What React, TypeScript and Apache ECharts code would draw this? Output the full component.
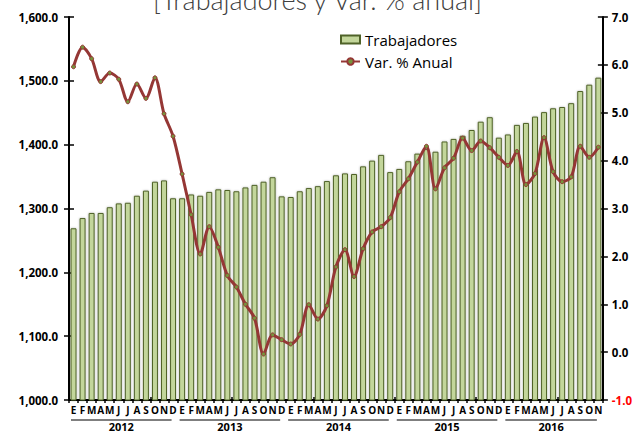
import React, { useEffect, useRef } from 'react';
import * as echarts from 'echarts';

const years = ['2012', '2013', '2014', '2015', '2016'];
const monthInitials = ['E', 'F', 'M', 'A', 'M', 'J', 'J', 'A', 'S', 'O', 'N', 'D'];
const monthsPerYear = [12, 12, 12, 12, 11];

const trabajadores = [
  1269, 1285, 1293, 1293, 1302, 1308, 1309, 1320, 1328, 1342, 1344, 1316,
  1316, 1322, 1320, 1326, 1330, 1329, 1327, 1333, 1337, 1342, 1349, 1319,
  1318, 1327, 1332, 1335, 1343, 1352, 1355, 1354, 1366, 1375, 1384, 1357,
  1362, 1374, 1386, 1393, 1389, 1405, 1409, 1414, 1423, 1436, 1443, 1411,
  1416, 1431, 1434, 1444, 1451, 1457, 1459, 1465, 1484, 1494, 1505,
];

const varAnual = [
  5.96, 6.37, 6.13, 5.65, 5.83, 5.7, 5.23, 5.6, 5.3, 5.73, 4.98, 4.51,
  3.72, 2.87, 2.05, 2.62, 2.19, 1.6, 1.36, 1.0, 0.71, -0.04, 0.36, 0.26,
  0.17, 0.37, 0.99, 0.69, 0.97, 1.78, 2.14, 1.58, 2.16, 2.51, 2.62, 2.81,
  3.35, 3.62, 3.97, 4.3, 3.41, 3.85, 4.05, 4.47, 4.21, 4.41, 4.27, 4.07,
  3.9, 4.19, 3.5, 3.73, 4.48, 3.77, 3.56, 3.66, 4.3, 4.07, 4.28,
];

const leftAxisRange = { min: 1000, max: 1600, interval: 100 };
const rightAxisRange = { min: -1, max: 7, interval: 1 };

const titleText = '[Trabajadores y Var. % anual]';
const barName = 'Trabajadores';
const lineName = 'Var. % Anual';

const categories: string[] = [];
years.forEach((y, yi) => {
  for (let m = 0; m < monthsPerYear[yi]; m++) categories.push(`${y}-${m}-${monthInitials[m]}`);
});

const FONT = 'Open Sans';

export default function App() {
  const ref = useRef<HTMLDivElement>(null);
  useEffect(() => {
    document.body.style.margin = '0';
    const chart = echarts.init(ref.current!, null, { renderer: 'svg' });
    const axisLineStyle = { color: '#000', width: 2 };
    const tickStyle = { color: '#000', width: 1.5 };
    chart.setOption({
      animation: false,
      title: {
        text: titleText,
        left: 'center',
        top: -19,
        textStyle: { fontSize: 27, fontWeight: 300, color: '#404040', fontFamily: 'Lato' },
      },
      legend: {
        orient: 'vertical',
        left: 340,
        top: 32,
        padding: 0,
        itemWidth: 19,
        itemHeight: 8,
        itemGap: 7,
        textStyle: { fontSize: 15, fontWeight: 500, color: '#000', fontFamily: FONT },
        data: [{ name: barName, icon: 'rect' }, { name: lineName }],
      },
      grid: { left: 69, right: 32, top: 17, bottom: 32, containLabel: false },
      xAxis: [
        {
          type: 'category',
          data: categories,
          axisLine: { onZero: false, lineStyle: axisLineStyle },
          axisTick: { show: true, length: 3, lineStyle: tickStyle },
          axisLabel: {
            interval: 0,
            margin: 5,
            fontSize: 10,
            fontWeight: 'bold',
            color: '#000',
            fontFamily: FONT,
            formatter: (v: string) => v.split('-')[2],
          },
        },
        {
          type: 'category',
          data: categories,
          position: 'bottom',
          axisLine: { show: false, onZero: false },
          axisTick: { show: true, inside: true, length: 3, lineStyle: tickStyle },
          axisLabel: { show: false },
        },
      ],
      yAxis: [
        {
          type: 'value',
          ...leftAxisRange,
          position: 'left',
          splitLine: { show: false },
          axisLine: { show: true, lineStyle: axisLineStyle },
          axisTick: { show: true, length: 5, lineStyle: tickStyle },
          axisLabel: {
            margin: 11,
            fontSize: 11.5,
            fontWeight: 'bold',
            color: '#000',
            fontFamily: FONT,
            formatter: (v: number) =>
              v.toLocaleString('en-US', { minimumFractionDigits: 1, maximumFractionDigits: 1 }),
          },
        },
        {
          type: 'value',
          ...rightAxisRange,
          position: 'right',
          splitLine: { show: false },
          axisLine: { show: true, lineStyle: axisLineStyle },
          axisTick: { show: true, length: 5, lineStyle: tickStyle },
          axisLabel: {
            margin: 9,
            fontSize: 11.5,
            fontWeight: 'bold',
            fontFamily: FONT,
            color: (v: any) => (Number(v) < 0 ? '#ff0000' : '#000'),
            formatter: (v: number) => v.toFixed(1),
          },
        },
        {
          type: 'value',
          ...leftAxisRange,
          position: 'left',
          splitLine: { show: false },
          axisLine: { show: false },
          axisTick: { show: true, inside: true, length: 5, lineStyle: tickStyle },
          axisLabel: { show: false },
        },
        {
          type: 'value',
          ...rightAxisRange,
          position: 'right',
          splitLine: { show: false },
          axisLine: { show: false },
          axisTick: { show: true, inside: true, length: 5, lineStyle: tickStyle },
          axisLabel: { show: false },
        },
      ],
      series: [
        {
          name: barName,
          type: 'bar',
          yAxisIndex: 0,
          barWidth: '66%',
          data: trabajadores,
          itemStyle: {
            color: '#c3d69b',
            borderColor: '#4f6228',
            borderWidth: 1,
            shadowBlur: 2,
            shadowColor: 'rgba(0,0,0,0.3)',
          },
        },
        {
          name: lineName,
          type: 'line',
          yAxisIndex: 1,
          data: varAnual,
          smooth: 0.3,
          symbol: 'circle',
          symbolSize: 4,
          lineStyle: { color: '#953735', width: 3 },
          itemStyle: { color: '#77933c', borderColor: '#953735', borderWidth: 1 },
          z: 5,
        },
      ],
    });

    const x0 = chart.convertToPixel({ xAxisIndex: 0 }, 0) as number;
    const x1 = chart.convertToPixel({ xAxisIndex: 0 }, 1) as number;
    const band = x1 - x0;
    const yBase = chart.convertToPixel({ yAxisIndex: 0 }, leftAxisRange.min) as number;
    const graphics: any[] = [];
    let start = 0;
    years.forEach((y, yi) => {
      const end = start + monthsPerYear[yi] - 1;
      const cs = chart.convertToPixel({ xAxisIndex: 0 }, start) as number;
      const ce = chart.convertToPixel({ xAxisIndex: 0 }, end) as number;
      const l = cs - band / 2 + 2;
      const r = ce + band / 2 - 6;
      graphics.push({
        type: 'line',
        shape: { x1: l, y1: yBase + 20, x2: r, y2: yBase + 20 },
        style: { stroke: '#000', lineWidth: 1.2 },
      });
      graphics.push({
        type: 'text',
        x: (l + r) / 2,
        y: yBase + 20.5,
        style: {
          text: y,
          fontSize: 11,
          fontWeight: 'bold',
          fontFamily: FONT,
          fill: '#000',
          align: 'center',
          verticalAlign: 'top',
        },
      });
      start = end + 1;
    });
    chart.setOption({ graphic: graphics });

    return () => chart.dispose();
  }, []);
  return <div ref={ref} style={{ width: 635, height: 432 }} />;
}
